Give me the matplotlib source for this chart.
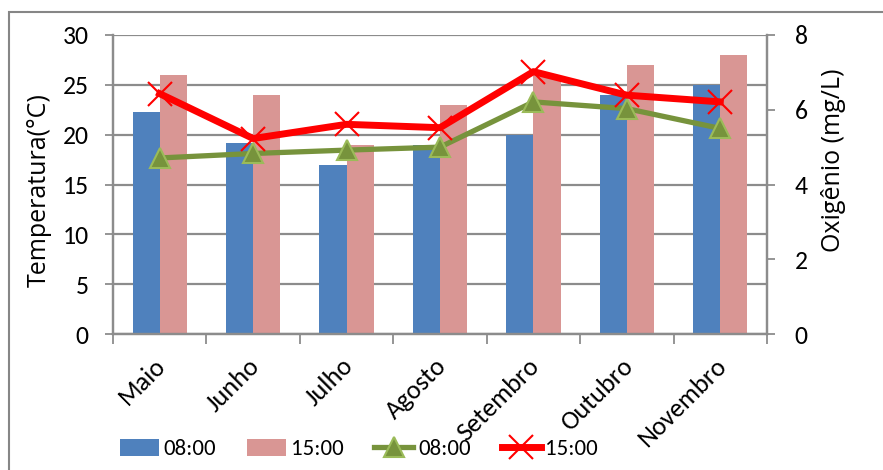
import matplotlib
matplotlib.use("Agg")
import matplotlib.pyplot as plt
import matplotlib.transforms as mtransforms
from matplotlib.patches import Rectangle, Patch
from matplotlib.lines import Line2D
import numpy as np

# Monthly water temperature (bars, left axis) and dissolved oxygen (lines, right axis)
meses = ["Maio", "Junho", "Julho", "Agosto", "Setembro", "Outubro", "Novembro"]
temp_0800 = [22.3, 19.2, 17.0, 19.0, 20.0, 24.0, 25.0]
temp_1500 = [26.0, 24.0, 19.0, 23.0, 26.0, 27.0, 28.0]
oxi_0800 = [4.71, 4.83, 4.92, 5.0, 6.21, 6.03, 5.5]
oxi_1500 = [6.43, 5.23, 5.61, 5.52, 7.02, 6.39, 6.21]
temp_ticks = [0, 5, 10, 15, 20, 25, 30]
oxi_ticks = [0, 2, 4, 6, 8]

BLUE = "#4F81BD"
PINK = "#D99694"
OLIVE = "#77933C"
LIGHT_OLIVE = "#9BBB59"
RED = "#FF0000"
GRID = "#8C8C8C"

NUM_FONT = ["Carlito", "DejaVu Sans"]
LABEL_FONT = ["Open Sans", "DejaVu Sans"]

W, H = 883, 470
fig = plt.figure(figsize=(W / 100, H / 100), dpi=100)
fig.patch.set_facecolor("white")


def px(xp, yp):
    """Pixel position (from top-left) to figure fraction."""
    return xp / W, 1 - yp / H


# chart frame (runs off the right and bottom edges)
fig.add_artist(Rectangle((9 / W, -0.05), 1.0, 1 - 12 / H + 0.05,
                         transform=fig.transFigure, fill=False,
                         edgecolor="#868686", linewidth=1.5))

ax = fig.add_axes([113 / W, 1 - 334 / H, (767 - 113) / W, (334 - 35) / H])
ax2 = ax.twinx()

x = np.arange(len(meses))
bw = 0.29
ax.bar(x - bw / 2, temp_0800, width=bw, color=BLUE, zorder=2)
ax.bar(x + bw / 2, temp_1500, width=bw, color=PINK, zorder=2)

ax.set_xlim(-0.5, len(meses) - 0.5)
ax.set_ylim(0, 30)
ax.set_yticks(temp_ticks)
ax.set_yticklabels([str(t) for t in temp_ticks], fontfamily=NUM_FONT, fontsize=18.5)
ax.yaxis.grid(True, color=GRID, linewidth=1.6, zorder=0)
ax.set_axisbelow(True)

# category boundary ticks
ax.set_xticks(np.arange(-0.5, len(meses), 1.0))
ax.set_xticklabels([])
ax.tick_params(axis="x", direction="out", length=7, width=1.3, color=GRID)
ax.tick_params(axis="y", direction="out", length=6, width=1.3, color=GRID, pad=11.5)

for a in (ax, ax2):
    a.spines["top"].set_visible(False)
    for side in ("left", "right", "bottom"):
        a.spines[side].set_color(GRID)
        a.spines[side].set_linewidth(1.6)

# rotated month labels
lab_tr = (mtransforms.blended_transform_factory(ax.transData, ax.transAxes)
          + mtransforms.ScaledTranslation(-6 / 100, -20 / 100, fig.dpi_scale_trans))
for xi, m in zip(x, meses):
    ax.text(xi, 0, m, rotation=45, ha="right", va="top", rotation_mode="anchor",
            transform=lab_tr, fontfamily=NUM_FONT, fontsize=19)

# oxygen lines
ax2.plot(x, oxi_0800, color=OLIVE, linewidth=3.8, marker="^", markersize=15,
         markerfacecolor=OLIVE, markeredgecolor=LIGHT_OLIVE, markeredgewidth=1.5, zorder=4)
ax2.plot(x, oxi_1500, color=RED, linewidth=5, marker="x", markersize=17,
         markeredgecolor=RED, markeredgewidth=1.5, zorder=5)
ax2.set_ylim(0, 8)
ax2.set_yticks(oxi_ticks)
ax2.set_yticklabels([str(t) for t in oxi_ticks], fontfamily=NUM_FONT, fontsize=18.5)
ax2.tick_params(axis="y", direction="out", length=6, width=1.3, color=GRID, pad=14)

# axis titles
fig.text(*px(39, 190), "Temperatura(°C)", rotation=90, ha="center", va="center",
         fontfamily=LABEL_FONT, fontsize=18)
fig.text(*px(833, 160), "Oxigênio (mg/L)", rotation=90, ha="center", va="center",
         fontfamily=LABEL_FONT, fontsize=18)

# legend
handles = [
    Patch(facecolor=BLUE, edgecolor="none"),
    Patch(facecolor=PINK, edgecolor="none"),
    Line2D([], [], color=OLIVE, linewidth=3.8, marker="^", markersize=15,
           markerfacecolor=OLIVE, markeredgecolor=LIGHT_OLIVE, markeredgewidth=1.5),
    Line2D([], [], color=RED, linewidth=5, marker="x", markersize=17,
           markeredgecolor=RED, markeredgewidth=1.5),
]
labels = ["08:00", "15:00", "08:00", "15:00"]
fig.legend(handles, labels, loc="center", bbox_to_anchor=px(359, 449),
           ncol=4, frameon=False, prop={"family": NUM_FONT, "size": 16.5},
           handlelength=1.7, handleheight=0.75, handletextpad=0.2, columnspacing=1.35,
           borderpad=0.1)

fig.savefig("out.png", dpi=100, facecolor="white")
